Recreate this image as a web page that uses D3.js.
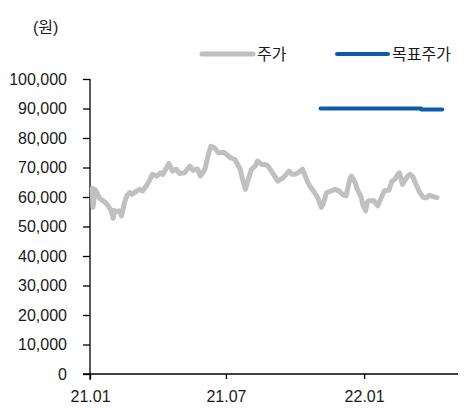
<!DOCTYPE html>
<html>
<head>
<meta charset="utf-8">
<script src="https://cdn.jsdelivr.net/npm/d3@7"></script>
<style>
  html, body { margin: 0; padding: 0; background: #fff; }
  svg { display: block; font-family: "Liberation Sans", Arial, "Noto Sans CJK KR", sans-serif; }
</style>
</head>
<body>
<svg id="chart" width="469" height="408"></svg>
<script>
// Daily closing price (원)
const priceDates = [
  "2021-01-04","2021-01-05","2021-01-07","2021-01-08","2021-01-11","2021-01-14","2021-01-18","2021-01-22",
  "2021-01-25","2021-01-29","2021-02-01","2021-02-02","2021-02-05","2021-02-09","2021-02-12","2021-02-16",
  "2021-02-19","2021-02-23","2021-02-26","2021-03-04","2021-03-08","2021-03-12","2021-03-17","2021-03-22",
  "2021-03-25","2021-03-31","2021-04-05","2021-04-08","2021-04-13","2021-04-16","2021-04-21","2021-04-26",
  "2021-04-30","2021-05-07","2021-05-14","2021-05-18","2021-05-24","2021-05-28","2021-06-03","2021-06-07",
  "2021-06-11","2021-06-16","2021-06-21","2021-06-28","2021-07-02","2021-07-07","2021-07-13","2021-07-20",
  "2021-07-23","2021-07-27","2021-07-30","2021-08-04","2021-08-09","2021-08-12","2021-08-18","2021-08-23",
  "2021-08-26","2021-09-01","2021-09-08","2021-09-15","2021-09-23","2021-09-27","2021-10-01","2021-10-05",
  "2021-10-11","2021-10-14","2021-10-18","2021-10-22","2021-10-27","2021-11-01","2021-11-05","2021-11-08",
  "2021-11-12","2021-11-18","2021-11-23","2021-11-29","2021-12-03","2021-12-08","2021-12-13","2021-12-15",
  "2021-12-20","2021-12-23","2021-12-28","2021-12-30","2022-01-03","2022-01-05","2022-01-07","2022-01-14",
  "2022-01-19","2022-01-24","2022-01-28","2022-02-03","2022-02-07","2022-02-11","2022-02-15","2022-02-17",
  "2022-02-21","2022-02-28","2022-03-03","2022-03-07","2022-03-11","2022-03-16","2022-03-21","2022-03-25",
  "2022-03-29","2022-04-01","2022-04-08"
];
const priceValues = [
  63000, 56500, 60500, 62500, 61000, 59500, 58800, 58000,
  57000, 55500, 52800, 55500, 55000, 55300, 53600, 58200,
  60400, 61500, 60900, 62000, 62600, 62000, 63700, 66000,
  67700, 67100, 68200, 67700, 69900, 71400, 68800, 69400,
  68000, 68200, 70500, 69000, 69500, 67100, 69400, 73800,
  77200, 76600, 75000, 75200, 74400, 73300, 72700, 69400,
  66000, 62600, 65400, 69400, 70500, 72200, 71000, 71000,
  70500, 68200, 65400, 66500, 68800, 67700, 67700, 68200,
  69400, 67500, 64900, 63200, 61500, 59300, 56500, 58000,
  61500, 62000, 62600, 62000, 60900, 60400, 66000, 67100,
  65000, 62500, 60000, 57500, 55300, 58100, 58700, 58700,
  57000, 59800, 62100, 62300, 65400, 66000, 67700, 68200,
  64300, 67100, 67700, 66800, 64300, 61500, 59800, 59700,
  60600, 60300, 59800
];

// Target price (원)
const targetDates  = ["2021-11-04", "2022-03-18", "2022-03-18", "2022-04-15"];
const targetValues = [90000, 90000, 89700, 89700];

const yTicks = [0, 10000, 20000, 30000, 40000, 50000, 60000, 70000, 80000, 90000, 100000];
const xTickDates  = ["2021-01-01", "2021-07-01", "2022-01-01"];
const xTickLabels = ["21.01", "21.07", "22.01"];
const xDomain = ["2021-01-01", "2022-05-06"];

const legendLabels = ["주가", "목표주가"];
const unitLabel = "(원)";

const colors = { price: "#c0c0c0", target: "#0a5bab", axis: "#000", text: "#1a1a1a" };

const parse = d3.timeParse("%Y-%m-%d");
const price  = priceDates.map((d, i) => ({ date: parse(d), value: priceValues[i] }));
const target = targetDates.map((d, i) => ({ date: parse(d), value: targetValues[i] }));

const svg = d3.select("#chart");
const plot = { left: 90, right: 458, top: 79, bottom: 374 };

const x = d3.scaleTime().domain(xDomain.map(parse)).range([plot.left, plot.right]);
const y = d3.scaleLinear().domain([0, 100000]).range([plot.bottom, plot.top]);

// Y axis
const yAxis = svg.append("g")
  .attr("transform", `translate(${plot.left},0)`)
  .call(d3.axisLeft(y).tickValues(yTicks).tickSize(7).tickPadding(16)
    .tickFormat(d3.format(",")));
yAxis.select(".domain").attr("d", `M0,${plot.top}V${plot.bottom + 6}`);

// X axis
const xAxis = svg.append("g")
  .attr("transform", `translate(0,${plot.bottom})`)
  .call(d3.axisBottom(x).tickValues(xTickDates.map(parse)).tickSize(5).tickPadding(12)
    .tickFormat((d, i) => xTickLabels[i]));
xAxis.select(".domain").attr("d", `M${plot.left - 7},0H${plot.right}`);

svg.selectAll(".tick text")
  .attr("fill", colors.text)
  .style("font-size", "16px")
  .style("font-family", '"Liberation Sans", Arial, sans-serif');
svg.selectAll(".domain, .tick line").attr("stroke", colors.axis).attr("stroke-width", 1.3);

// Lines
const line = d3.line().x(d => x(d.date)).y(d => y(d.value));

svg.append("path")
  .datum(price)
  .attr("fill", "none")
  .attr("stroke", colors.price)
  .attr("stroke-width", 5)
  .attr("stroke-linejoin", "round")
  .attr("stroke-linecap", "round")
  .attr("d", line);

svg.append("path")
  .datum(target)
  .attr("fill", "none")
  .attr("stroke", colors.target)
  .attr("stroke-width", 4)
  .attr("stroke-linejoin", "round")
  .attr("stroke-linecap", "round")
  .attr("d", line);

// Unit label
svg.append("text")
  .attr("x", 33).attr("y", 33)
  .attr("fill", colors.text)
  .style("font-size", "16px")
  .text(unitLabel);

// Legend
const legendItems = [
  { label: legendLabels[0], color: colors.price, width: 5, x0: 202 },
  { label: legendLabels[1], color: colors.target, width: 4, x0: 337 }
];
const legend = svg.append("g");
legendItems.forEach(it => {
  legend.append("line")
    .attr("x1", it.x0).attr("x2", it.x0 + 51)
    .attr("y1", 54).attr("y2", 54)
    .attr("stroke", it.color)
    .attr("stroke-width", it.width)
    .attr("stroke-linecap", "round");
  legend.append("text")
    .attr("x", it.x0 + 55).attr("y", 60)
    .attr("fill", colors.text)
    .style("font-size", "16px")
    .text(it.label);
});
</script>
</body>
</html>
